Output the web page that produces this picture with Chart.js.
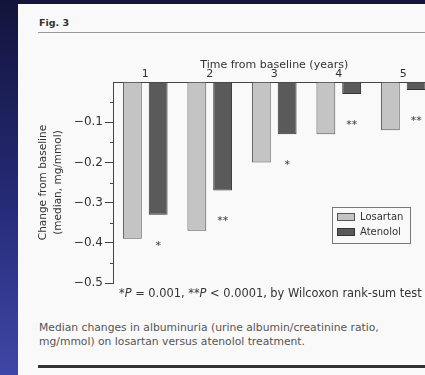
<!DOCTYPE html>
<html>
<head>
<meta charset="utf-8">
<script src="https://cdn.jsdelivr.net/npm/chart.js@4.4.1/dist/chart.umd.min.js"></script>
<style>
  html, body { margin: 0; padding: 0; }
  body {
    width: 425px; height: 375px; overflow: hidden; position: relative;
    background: linear-gradient(to bottom, #12143a 0%, #262b78 55%, #3f47a6 100%);
    font-family: "DejaVu Sans", sans-serif;
  }
  #paper {
    position: absolute; left: 18px; top: 4px; width: 440px; height: 390px;
    background: #f9f9f9; filter: blur(0.5px);
  }
  .txt { position: absolute; white-space: nowrap; }
  #fig { left: 21px; top: 13px; font-size: 9.5px; font-weight: bold; color: #333; }
  #rule1 { position: absolute; left: 20px; top: 28px; width: 420px; height: 1px; background: #999; }
  #foot { left: 101px; top: 282px; font-size: 11.4px; color: #333; }
  #caption { left: 21px; top: 317px; font-size: 10.75px; line-height: 14px; color: #555; }
  #rule2 { position: absolute; left: 20px; top: 361px; width: 420px; height: 3px; background: #333; }
  #wrap { position: absolute; left: -18px; top: -4px; width: 460px; height: 300px; }
</style>
</head>
<body>
<div id="paper">
  <div class="txt" id="fig">Fig. 3</div>
  <div id="rule1"></div>
  <div id="wrap"><canvas id="albChart"></canvas></div>
  <div class="txt" id="foot">*<i>P</i> = 0.001, **<i>P</i> &lt; 0.0001, by Wilcoxon rank-sum test</div>
  <div class="txt" id="caption">Median changes in albuminuria (urine albumin/creatinine ratio,<br>mg/mmol) on losartan versus atenolol treatment.</div>
  <div id="rule2"></div>
</div>
<script>
// Données
const years = ['1', '2', '3', '4', '5'];
const losartan = [-0.39, -0.37, -0.20, -0.13, -0.12];
const atenolol = [-0.33, -0.27, -0.13, -0.03, -0.02];
const sigMarks = ['*', '**', '*', '**', '**'];

Chart.defaults.font.family = '"DejaVu Sans", sans-serif';

function isMajor(v) {
    const t = Math.round(v * 100);
    return t !== 0 && t % 10 === 0;
}

// étoiles de significativité sous les barres atenolol
const sigPlugin = {
    id: 'sigMarks',
    afterDatasetsDraw(chart) {
        const ctx = chart.ctx;
        const meta = chart.getDatasetMeta(1);
        ctx.save();
        ctx.fillStyle = '#333';
        ctx.font = '11px "DejaVu Sans"';
        ctx.textAlign = 'center';
        ctx.textBaseline = 'middle';
        meta.data.forEach((bar, i) => {
            ctx.fillText(sigMarks[i], bar.x, bar.y + 31);
        });
        ctx.restore();
    }
};

// petites graduations intermédiaires de l'axe y
const minorTicks = {
    id: 'minorTicks',
    afterDraw(chart) {
        const sc = chart.scales.y;
        const ctx = chart.ctx;
        ctx.save();
        ctx.strokeStyle = '#444';
        ctx.lineWidth = 1;
        sc.ticks.forEach(t => {
            if (Math.round(t.value * 100) % 10 === 0) return;
            const py = Math.round(sc.getPixelForValue(t.value)) + 0.5;
            ctx.beginPath();
            ctx.moveTo(sc.right - 3, py);
            ctx.lineTo(sc.right, py);
            ctx.stroke();
        });
        ctx.restore();
    }
};

// légende encadrée en bas à droite
const boxLegend = {
    id: 'boxLegend',
    afterDraw(chart) {
        const ctx = chart.ctx;
        const x = 332, y = 207, w = 78, h = 36;
        ctx.save();
        ctx.fillStyle = '#f9f9f9';
        ctx.fillRect(x, y, w, h);
        ctx.strokeStyle = '#777';
        ctx.lineWidth = 1;
        ctx.strokeRect(x + 0.5, y + 0.5, w, h);
        ctx.font = '10px "DejaVu Sans"';
        ctx.textBaseline = 'middle';
        chart.data.datasets.forEach((ds, i) => {
            const sy = y + 6 + i * 15;
            ctx.fillStyle = ds.backgroundColor;
            ctx.fillRect(x + 5, sy, 18, 8);
            ctx.strokeStyle = ds.borderColor;
            ctx.strokeRect(x + 5.5, sy + 0.5, 17, 7);
            ctx.fillStyle = '#333';
            ctx.fillText(ds.label, x + 28, sy + 4.5);
        });
        ctx.restore();
    }
};

const albCtx = document.getElementById('albChart').getContext('2d');

const albChart = new Chart(albCtx, {
    type: 'bar',
    data: {
        labels: years,
        datasets: [{
            label: 'Losartan',
            data: losartan,
            backgroundColor: '#c4c4c4',
            borderColor: '#555',
            borderWidth: 1,
            barPercentage: 0.73,
            categoryPercentage: 0.8
        }, {
            label: 'Atenolol',
            data: atenolol,
            backgroundColor: '#5a5a5a',
            borderColor: '#333',
            borderWidth: 1,
            barPercentage: 0.73,
            categoryPercentage: 0.8
        }]
    },
    options: {
        responsive: true,
        maintainAspectRatio: false,
        animation: false,
        layout: { padding: { left: 0, top: 0, right: 24.5, bottom: 17 } },
        plugins: {
            legend: { display: false },
            tooltip: { enabled: false }
        },
        scales: {
            x: {
                position: 'top',
                grid: { display: false, drawTicks: false },
                border: { display: true, color: '#444', width: 1 },
                ticks: { color: '#333', font: { size: 11 }, padding: 1 },
                title: {
                    display: true,
                    text: 'Time from baseline (years)',
                    color: '#333',
                    font: { size: 11 },
                    padding: { top: 58.4, bottom: 0 }
                },
                afterFit(scale) { scale.height = 82; }
            },
            y: {
                min: -0.5,
                max: 0,
                grid: {
                    drawOnChartArea: false,
                    tickLength: 8,
                    color: '#444',
                    tickColor: c => isMajor(c.tick.value) ? '#444' : 'rgba(0,0,0,0)'
                },
                border: { display: true, color: '#444', width: 1 },
                ticks: {
                    stepSize: 0.05,
                    autoSkip: false,
                    color: '#333',
                    font: { size: 12 },
                    padding: 2,
                    callback(value) {
                        if (!isMajor(value)) return '';
                        return '\u2212' + Math.abs(value).toFixed(1);
                    }
                },
                title: {
                    display: true,
                    text: ['Change from baseline', '(median, mg/mmol)'],
                    color: '#333',
                    font: { size: 10.5, lineHeight: 1.43 },
                    padding: { top: 35.5, bottom: 0 }
                },
                afterFit(scale) { scale.width = 113; }
            }
        }
    },
    plugins: [sigPlugin, minorTicks, boxLegend]
});
</script>
</body>
</html>
